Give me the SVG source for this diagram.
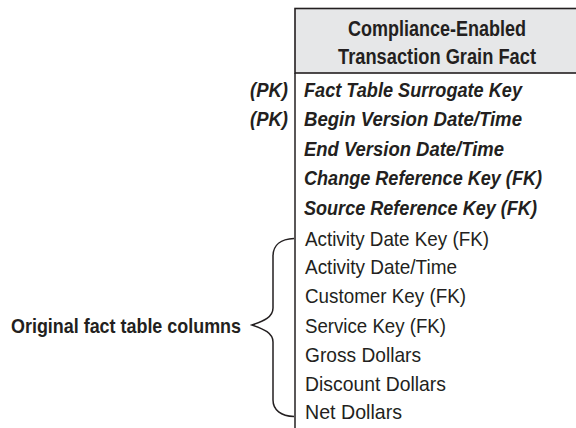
<svg xmlns="http://www.w3.org/2000/svg" width="576" height="428" viewBox="0 0 576 428">
<style>
text{font-family:"Liberation Sans",Arial,sans-serif;font-size:21px;fill:#231f20}
.h{font-weight:bold;text-anchor:middle;font-size:22px}
.bi{font-weight:bold;font-style:italic}
.pk{font-weight:bold;font-style:italic;text-anchor:end}
.n{font-weight:normal}
.lbl{font-weight:bold}
.ln{fill:none;stroke:#231f20;stroke-width:1.5}
</style>
<g id="table">
<rect x="295" y="8.5" width="290" height="64.5" fill="#e6e7e8" stroke="#231f20" stroke-width="1.6"/>
<line class="ln" x1="295" y1="73" x2="295" y2="428"/>
<text class="h" x="437" y="36" textLength="178" lengthAdjust="spacingAndGlyphs">Compliance-Enabled</text>
<text class="h" x="437" y="64" textLength="198" lengthAdjust="spacingAndGlyphs">Transaction Grain Fact</text>
<text class="pk" x="288" y="97" textLength="38" lengthAdjust="spacingAndGlyphs">(PK)</text>
<text class="pk" x="288" y="126" textLength="38" lengthAdjust="spacingAndGlyphs">(PK)</text>
<text class="bi" x="304" y="97" textLength="218" lengthAdjust="spacingAndGlyphs">Fact Table Surrogate Key</text>
<text class="bi" x="304" y="126" textLength="218" lengthAdjust="spacingAndGlyphs">Begin Version Date/Time</text>
<text class="bi" x="304" y="156" textLength="200" lengthAdjust="spacingAndGlyphs">End Version Date/Time</text>
<text class="bi" transform="matrix(0.85 0 0 1 304 185)" x="0" y="0" textLength="280" lengthAdjust="spacingAndGlyphs">Change Reference Key (FK)</text>
<text class="bi" transform="matrix(0.85 0 0 1 304 215)" x="0" y="0" textLength="274" lengthAdjust="spacingAndGlyphs">Source Reference Key (FK)</text>
<text class="n" x="305" y="246" textLength="184" lengthAdjust="spacingAndGlyphs">Activity Date Key (FK)</text>
<text class="n" x="305" y="274" textLength="152" lengthAdjust="spacingAndGlyphs">Activity Date/Time</text>
<text class="n" x="305" y="303" textLength="161" lengthAdjust="spacingAndGlyphs">Customer Key (FK)</text>
<text class="n" x="305" y="333" textLength="141" lengthAdjust="spacingAndGlyphs">Service Key (FK)</text>
<text class="n" x="305" y="362" textLength="116" lengthAdjust="spacingAndGlyphs">Gross Dollars</text>
<text class="n" x="305" y="391" textLength="141" lengthAdjust="spacingAndGlyphs">Discount Dollars</text>
<text class="n" x="305" y="419" textLength="97" lengthAdjust="spacingAndGlyphs">Net Dollars</text>
</g>
<g id="brace-label">
<text class="lbl" x="11" y="333" textLength="230" lengthAdjust="spacingAndGlyphs">Original fact table columns</text>
</g>
<g id="connectors">
<path class="ln" d="M294,238.5 C281,239 273,245 273,256 L273,308 C273,317 264,321 252,325 C264,329 273,333 273,342 L273,400 C273,410 281,416 294,416.5"/>
</g>
</svg>
